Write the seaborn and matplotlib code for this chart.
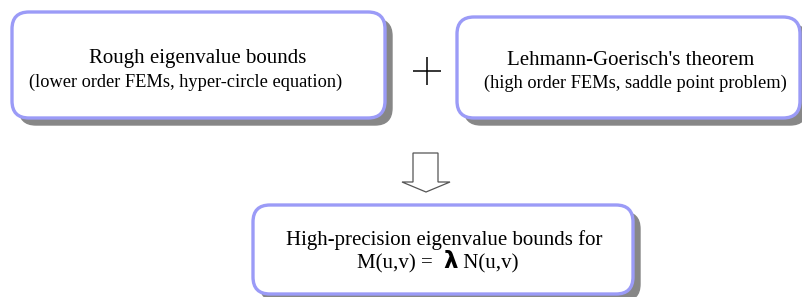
import matplotlib
matplotlib.use("Agg")
import matplotlib.pyplot as plt
from matplotlib.patches import FancyBboxPatch, Polygon
import seaborn as sns

sns.set_style("white")
plt.rcParams['font.family'] = ['Liberation Serif', 'DejaVu Serif']

box_titles = ["Rough eigenvalue bounds",
              "Lehmann-Goerisch's theorem",
              "High-precision eigenvalue bounds for"]
box_subtitles = ["(lower order FEMs, hyper-circle equation)",
                 "(high order FEMs, saddle point problem)"]
equation_parts = ["M(u,v) = ", "\u03bb", " N(u,v)"]

# box geometry in pixel coords: (x0, y0, x1, y1)
boxes = [(12, 12, 385, 118), (457, 17, 800, 118), (253, 205, 633, 294)]
# text anchor positions (center x, baseline y)
title_pos = [(197.5, 63), (630.5, 65), (444, 245)]
sub_pos = [(186, 87), (635, 88)]

fig = plt.figure(figsize=(8.02, 2.97), dpi=100)
ax = fig.add_axes([0, 0, 1, 1])
ax.set_xlim(0, 802)
ax.set_ylim(297, 0)
ax.axis("off")

for i, (x0, y0, x1, y1) in enumerate(boxes):
    w, h = x1 - x0, y1 - y0
    shadow = FancyBboxPatch((x0 + 7, y0 + 7), w, h,
                            boxstyle="round,pad=0,rounding_size=17",
                            fc="#878787", ec="#878787", lw=1, zorder=1)
    ax.add_patch(shadow)
    box = FancyBboxPatch((x0, y0), w, h,
                         boxstyle="round,pad=0,rounding_size=17",
                         fc="white", ec="#9b9bf7", lw=2.4, zorder=2)
    ax.add_patch(box)
    tx, ty = title_pos[i]
    ax.text(tx, ty, box_titles[i], ha="center", va="baseline",
            fontsize=15, color="black", zorder=3)
    if i < 2:
        sx, sy = sub_pos[i]
        ax.text(sx, sy, box_subtitles[i], ha="center", va="baseline",
                fontsize=13.2, color="black", zorder=3)

# equation line in box 3, built from pieces
t1 = ax.text(357, 268, equation_parts[0], ha="left", va="baseline",
             fontsize=15, color="black", zorder=3)
t2 = ax.annotate(equation_parts[1], xy=(1, 0), xycoords=t1,
                 xytext=(4, 0), textcoords="offset points",
                 ha="left", va="bottom", fontsize=16.5, fontweight="semibold",
                 family=["DejaVu Sans"], color="black", zorder=3)
t3 = ax.annotate(equation_parts[2], xy=(1, 0), xycoords=t2,
                 xytext=(0, 0), textcoords="offset points",
                 ha="left", va="bottom", fontsize=15, color="black", zorder=3)

# plus sign
ax.plot([427, 427], [57, 85], color="black", lw=1.1, solid_capstyle="butt")
ax.plot([413, 441], [71, 71], color="black", lw=1.1, solid_capstyle="butt")

# hollow down arrow
arrow = Polygon([(413, 153), (438, 153), (438, 182), (450, 182),
                 (426, 192), (402, 182), (413, 182)],
                closed=True, fc="white", ec="#555555", lw=0.9)
ax.add_patch(arrow)

fig.savefig("out.png", dpi=100)
